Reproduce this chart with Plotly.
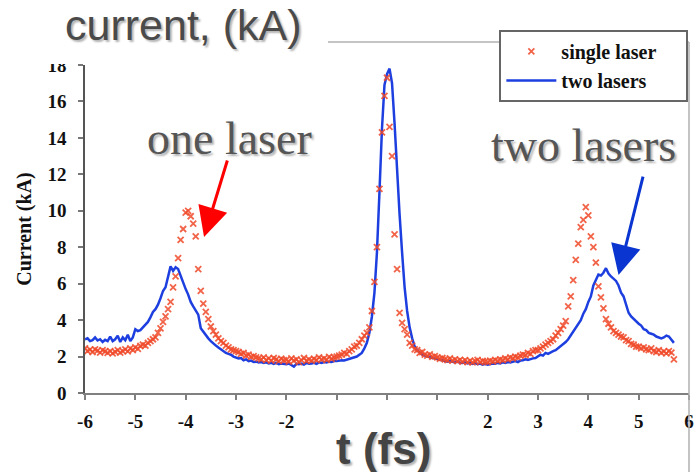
import plotly.graph_objects as go

# Beam current profiles sampled every 0.05 fs from -6.00 fs to 5.70 fs
single_laser = [
    # -6.00 .. -5.55
    2.45, 2.30, 2.38, 2.25, 2.40, 2.32, 2.22, 2.35, 2.28, 2.20,
    # -5.50 .. -5.05
    2.30, 2.18, 2.26, 2.35, 2.22, 2.30, 2.40, 2.28, 2.45, 2.36,
    # -5.00 .. -4.55
    2.50, 2.42, 2.58, 2.65, 2.60, 2.75, 2.85, 2.95, 3.05, 3.30,
    # -4.50 .. -4.05
    3.55, 3.90, 4.20, 4.60, 5.00, 5.80, 6.40, 7.40, 8.40, 9.00,
    # -4.00 .. -3.55
    9.90, 10.00, 9.70, 9.30, 8.60, 6.80, 5.60, 4.90, 4.45, 4.05,
    # -3.50 .. -3.05
    3.65, 3.40, 3.20, 3.00, 2.85, 2.75, 2.60, 2.50, 2.40, 2.35,
    # -3.00 .. -2.55
    2.30, 2.25, 2.15, 2.20, 2.05, 2.10, 1.98, 2.02, 1.95, 1.90,
    # -2.50 .. -2.05
    1.85, 1.95, 1.80, 1.90, 1.78, 1.92, 1.85, 1.75, 1.88, 1.80,
    # -2.00 .. -1.55
    1.82, 1.72, 1.90, 1.78, 1.85, 1.70, 1.80, 1.92, 1.76, 1.84,
    # -1.50 .. -1.05
    1.78, 1.88, 1.80, 1.95, 1.85, 1.90, 1.82, 1.98, 1.88, 1.95,
    # -1.00 .. -0.55
    2.00, 2.05, 2.10, 2.20, 2.15, 2.30, 2.40, 2.55, 2.60, 2.75,
    # -0.50 .. -0.05
    2.95, 3.15, 3.30, 3.60, 4.50, 6.10, 8.00, 11.20, 14.30, 16.30,
    # 0.00 .. 0.45
    17.30, 14.60, 13.00, 8.70, 6.80, 4.40, 3.85, 3.50, 3.20, 2.75,
    # 0.50 .. 0.95
    2.60, 2.40, 2.35, 2.20, 2.25, 2.10, 2.05, 2.12, 1.98, 2.02,
    # 1.00 .. 1.45
    1.95, 1.88, 1.92, 1.85, 1.80, 1.90, 1.78, 1.85, 1.75, 1.82,
    # 1.50 .. 1.95
    1.72, 1.80, 1.70, 1.78, 1.68, 1.75, 1.82, 1.70, 1.76, 1.72,
    # 2.00 .. 2.45
    1.70, 1.78, 1.74, 1.82, 1.76, 1.85, 1.80, 1.90, 1.84, 1.95,
    # 2.50 .. 2.95
    1.90, 2.00, 1.95, 2.05, 2.10, 2.08, 2.20, 2.15, 2.30, 2.35,
    # 3.00 .. 3.45
    2.35, 2.45, 2.55, 2.65, 2.75, 2.85, 2.95, 3.15, 3.30, 3.50,
    # 3.50 .. 3.95
    3.70, 3.95, 4.75, 5.30, 6.20, 7.30, 8.20, 9.10, 9.50, 10.20,
    # 4.00 .. 4.45
    9.75, 8.60, 8.00, 7.15, 5.85, 5.25, 4.65, 4.05, 3.80, 3.60,
    # 4.50 .. 4.95
    3.40, 3.30, 3.20, 3.10, 3.05, 2.90, 2.85, 2.70, 2.65, 2.55,
    # 5.00 .. 5.45
    2.55, 2.45, 2.50, 2.40, 2.35, 2.45, 2.30, 2.25, 2.35, 2.20,
    # 5.50 .. 5.70
    2.28, 2.18, 2.30, 2.22, 1.85,
]

two_lasers = [
    # -6.00 .. -5.55
    2.95, 3.00, 2.85, 2.90, 3.05, 2.88, 2.95, 2.80, 2.92, 2.85,
    # -5.50 .. -5.05
    3.10, 2.85, 2.95, 3.15, 2.80, 3.05, 2.90, 3.20, 2.85, 3.05,
    # -5.00 .. -4.55
    3.50, 3.40, 3.45, 3.60, 3.75, 3.90, 4.15, 4.45, 4.60, 4.85,
    # -4.50 .. -4.05
    5.20, 5.60, 5.80, 6.30, 6.95, 6.70, 6.90, 6.80, 6.40, 6.10,
    # -4.00 .. -3.55
    5.70, 5.40, 5.00, 4.75, 4.55, 4.30, 3.55, 3.35, 3.15, 3.00,
    # -3.50 .. -3.05
    2.85, 2.70, 2.60, 2.50, 2.40, 2.30, 2.20, 2.15, 2.10, 2.00,
    # -3.00 .. -2.55
    1.95, 1.90, 1.92, 1.80, 1.85, 1.75, 1.78, 1.70, 1.72, 1.68,
    # -2.50 .. -2.05
    1.70, 1.65, 1.68, 1.62, 1.66, 1.60, 1.65, 1.58, 1.62, 1.60,
    # -2.00 .. -1.55
    1.58, 1.62, 1.55, 1.45, 1.60, 1.58, 1.62, 1.56, 1.65, 1.60,
    # -1.50 .. -1.05
    1.62, 1.66, 1.60, 1.68, 1.65, 1.70, 1.68, 1.72, 1.70, 1.75,
    # -1.00 .. -0.55
    1.75, 1.78, 1.80, 1.78, 1.82, 1.85, 1.90, 1.95, 2.00, 2.10,
    # -0.50 .. -0.05
    2.20, 2.45, 2.75, 3.30, 4.20, 5.50, 7.70, 11.00, 14.50, 16.90,
    # 0.00 .. 0.45
    17.50, 17.80, 17.00, 14.80, 12.10, 9.80, 7.70, 5.80, 4.50, 3.60,
    # 0.50 .. 0.95
    3.00, 2.55, 2.35, 2.20, 2.10, 2.05, 2.00, 1.95, 1.92, 1.90,
    # 1.00 .. 1.45
    1.85, 1.82, 1.80, 1.78, 1.72, 1.75, 1.70, 1.68, 1.72, 1.66,
    # 1.50 .. 1.95
    1.65, 1.68, 1.62, 1.66, 1.60, 1.64, 1.58, 1.62, 1.56, 1.60,
    # 2.00 .. 2.45
    1.55, 1.58, 1.62, 1.60, 1.65, 1.62, 1.68, 1.65, 1.70, 1.68,
    # 2.50 .. 2.95
    1.72, 1.75, 1.70, 1.78, 1.80, 1.85, 1.82, 1.88, 1.90, 1.92,
    # 3.00 .. 3.45
    2.00, 2.10, 2.05, 2.20, 2.15, 2.25, 2.30, 2.35, 2.45, 2.55,
    # 3.50 .. 3.95
    2.65, 2.80, 2.95, 3.15, 3.40, 3.55, 3.75, 4.00, 4.35, 4.60,
    # 4.00 .. 4.45
    5.00, 5.30, 5.90, 6.20, 6.50, 6.45, 6.60, 6.85, 6.55, 6.40,
    # 4.50 .. 4.95
    6.30, 6.15, 5.90, 5.50, 5.30, 4.90, 4.40, 4.20, 4.05, 3.95,
    # 5.00 .. 5.45
    3.80, 3.70, 3.50, 3.45, 3.30, 3.25, 3.20, 3.10, 3.05, 3.00,
    # 5.50 .. 5.70
    3.05, 3.15, 3.10, 2.95, 2.75,
]

# sample times (fs) of the profiles above
t_fs = [round(-6.0 + 0.05 * k, 2) for k in range(len(single_laser))]

x_tick_values = [-6, -5, -4, -3, -2, -1, 0, 1, 2, 3, 4, 5, 6]
x_tick_labels = ["-6", "-5", "-4", "-3", "-2", "", "", "", "2", "3", "4", "5", "6"]
y_tick_values = [0, 2, 4, 6, 8, 10, 12, 14, 16, 18]

SERIF = "Liberation Serif"
SANS = "Liberation Sans"
SHADOW = "2px 2px 2px rgba(0,0,0,0.30)"
PAD = "\u00a0" * 5  # keeps the legend box wide

fig = go.Figure()
fig.add_trace(go.Scatter(
    x=t_fs, y=two_lasers, mode="lines", name="two lasers" + PAD,
    line=dict(color="#1d3fe0", width=2.5),
))
fig.add_trace(go.Scatter(
    x=t_fs, y=single_laser, mode="markers", name="single laser" + PAD,
    marker=dict(symbol="x-thin", size=6, color="#f04a2a", opacity=0.85,
                line=dict(color="#f04a2a", width=1.8)),
))

tick_font = dict(family=SERIF, size=19, color="#111111", weight="bold")

fig.update_layout(
    width=699, height=472,
    margin=dict(l=85, r=5, t=65, b=79),
    paper_bgcolor="white", plot_bgcolor="white",
    showlegend=True,
    legend=dict(
        traceorder="reversed",
        x=0.686, y=1.107, xanchor="left", yanchor="top",
        bgcolor="white", bordercolor="#666666", borderwidth=2,
        font=dict(family=SERIF, size=20, color="#111111", weight="bold"),
        itemwidth=50,
    ),
    xaxis=dict(
        range=[-6, 6], showgrid=False, zeroline=False,
        showline=True, linecolor="#808080", linewidth=2,
        ticks="outside", ticklen=5, tickwidth=1.5, tickcolor="#808080",
        tickvals=x_tick_values, ticktext=x_tick_labels,
        tickfont=tick_font, ticklabelstandoff=5,
    ),
    yaxis=dict(
        range=[0, 18], showgrid=False, zeroline=False,
        showline=True, linecolor="#555555", linewidth=1.5,
        ticks="outside", ticklen=5, tickwidth=1.5, tickcolor="#777777",
        tickvals=y_tick_values, tickfont=tick_font, ticklabelstandoff=8,
        title=dict(text="Current (kA)", standoff=10,
                   font=dict(family=SERIF, size=20, color="#111111", weight="bold")),
    ),
)

# white band behind the heading, then the chart frame lines
fig.add_shape(type="rect", xref="paper", yref="paper",
              x0=-0.2, x1=1.02, y0=1.003, y1=1.25,
              fillcolor="white", line=dict(width=0), layer="above")
fig.add_shape(type="line", xref="paper", yref="paper",
              x0=0.4023, x1=1.0, y0=1.0701, y1=1.0701,
              line=dict(color="#b0b0b0", width=1.5), layer="above")
fig.add_shape(type="line", xref="paper", yref="paper",
              x0=1.0, x1=1.0, y0=1.0701, y1=-0.25,
              line=dict(color="#b0b0b0", width=1.5), layer="above")

# headings
fig.add_annotation(text="current, (kA)", xref="paper", yref="paper",
                   x=0.1626, y=1.122, xanchor="center", yanchor="middle",
                   showarrow=False,
                   font=dict(family=SANS, size=43, color="#4a4a4a", shadow=SHADOW))
fig.add_annotation(text="t (fs)", xref="paper", yref="paper",
                   x=0.494, y=-0.168, xanchor="center", yanchor="middle",
                   showarrow=False,
                   font=dict(family=SANS, size=44, color="#444444", weight="bold",
                             shadow=SHADOW))

# peak labels and arrows
fig.add_annotation(text="one laser", x=-3.12, y=13.94, showarrow=False,
                   xanchor="center", yanchor="middle",
                   font=dict(family=SERIF, size=46, color="#555555", shadow=SHADOW))
fig.add_annotation(text="two lasers", x=3.91, y=13.6, showarrow=False,
                   xanchor="center", yanchor="middle",
                   font=dict(family=SERIF, size=46, color="#555555", shadow=SHADOW))
fig.add_annotation(text="", x=-3.635, y=8.56, ax=-3.163, ay=12.84,
                   axref="x", ayref="y", showarrow=True,
                   arrowcolor="#ff0000", arrowwidth=3, arrowhead=2, arrowsize=2)
fig.add_annotation(text="", x=4.60, y=6.48, ax=5.094, ay=11.96,
                   axref="x", ayref="y", showarrow=True,
                   arrowcolor="#0a35d0", arrowwidth=3, arrowhead=2, arrowsize=2)

fig.write_html("out.html")
